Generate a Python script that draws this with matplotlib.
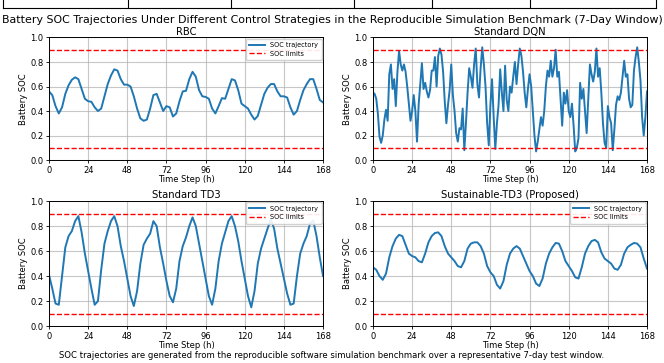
import numpy as np
import matplotlib
matplotlib.use("Agg")
import matplotlib.pyplot as plt
from matplotlib.lines import Line2D

# hourly / 2-hourly SOC values
t2 = np.arange(0, 169, 2)
t1 = np.arange(0, 169, 1)

soc_rbc = [0.56, 0.53, 0.44, 0.38, 0.43, 0.54, 0.61, 0.655, 0.675, 0.66,
           0.58, 0.50, 0.48, 0.475, 0.43, 0.40, 0.42, 0.52, 0.62, 0.69,
           0.74, 0.73, 0.66, 0.615, 0.615, 0.60, 0.52, 0.42, 0.34, 0.32,
           0.33, 0.42, 0.53, 0.54, 0.47, 0.40, 0.44, 0.43, 0.355, 0.38,
           0.48, 0.56, 0.565, 0.66, 0.72, 0.68, 0.57, 0.52, 0.515, 0.50,
           0.42, 0.38, 0.44, 0.505, 0.50, 0.58, 0.66, 0.65, 0.57, 0.46,
           0.44, 0.42, 0.37, 0.33, 0.36, 0.45, 0.54, 0.59, 0.62, 0.62,
           0.56, 0.52, 0.52, 0.51, 0.43, 0.37, 0.40, 0.49, 0.57, 0.62,
           0.66, 0.66, 0.58, 0.49, 0.47]

soc_dqn = [0.55, 0.54, 0.50, 0.38, 0.19, 0.14, 0.20, 0.33, 0.41, 0.32,
           0.70, 0.78, 0.58, 0.66, 0.44, 0.72, 0.89, 0.78, 0.73, 0.78,
           0.72, 0.60, 0.46, 0.32, 0.40, 0.53, 0.40, 0.15, 0.45, 0.62,
           0.79, 0.58, 0.63, 0.56, 0.51, 0.57, 0.73, 0.73, 0.84, 0.60,
           0.85, 0.91, 0.86, 0.72, 0.48, 0.30, 0.45, 0.57, 0.78, 0.53,
           0.40, 0.22, 0.15, 0.26, 0.25, 0.42, 0.08, 0.30, 0.55, 0.75,
           0.68, 0.59, 0.78, 0.91, 0.62, 0.51, 0.75, 0.92, 0.78, 0.60,
           0.30, 0.12, 0.45, 0.66, 0.35, 0.09, 0.30, 0.45, 0.74, 0.55,
           0.40, 0.77, 0.49, 0.40, 0.60, 0.55, 0.68, 0.80, 0.62, 0.78,
           0.91, 0.85, 0.72, 0.55, 0.43, 0.58, 0.70, 0.60, 0.40, 0.20,
           0.07, 0.15, 0.25, 0.35, 0.28, 0.40, 0.60, 0.73, 0.68, 0.81,
           0.68, 0.75, 0.90, 0.68, 0.72, 0.50, 0.28, 0.55, 0.46, 0.57,
           0.40, 0.35, 0.46, 0.28, 0.07, 0.10, 0.18, 0.63, 0.50, 0.58,
           0.40, 0.22, 0.50, 0.78, 0.70, 0.64, 0.72, 0.91, 0.68, 0.75,
           0.55, 0.30, 0.14, 0.10, 0.44, 0.35, 0.30, 0.08, 0.25, 0.45,
           0.52, 0.49, 0.55, 0.68, 0.81, 0.68, 0.70, 0.50, 0.43, 0.45,
           0.73, 0.84, 0.92, 0.80, 0.65, 0.35, 0.20, 0.35, 0.56]

soc_td3 = [0.41, 0.30, 0.18, 0.17, 0.40, 0.63, 0.72, 0.76, 0.84, 0.88,
           0.75, 0.58, 0.44, 0.30, 0.17, 0.20, 0.45, 0.66, 0.76, 0.84,
           0.88, 0.80, 0.64, 0.52, 0.38, 0.24, 0.16, 0.28, 0.50, 0.65,
           0.70, 0.74, 0.84, 0.80, 0.63, 0.50, 0.36, 0.24, 0.19, 0.30,
           0.52, 0.64, 0.71, 0.80, 0.87, 0.80, 0.66, 0.52, 0.38, 0.24,
           0.17, 0.30, 0.52, 0.66, 0.75, 0.84, 0.88, 0.80, 0.68, 0.52,
           0.38, 0.24, 0.15, 0.28, 0.50, 0.62, 0.70, 0.78, 0.855, 0.78,
           0.62, 0.50, 0.38, 0.26, 0.17, 0.18, 0.40, 0.58, 0.66, 0.72,
           0.82, 0.845, 0.72, 0.55, 0.40]

soc_std3 = [0.47, 0.45, 0.40, 0.37, 0.42, 0.55, 0.64, 0.70, 0.73, 0.72,
            0.65, 0.58, 0.56, 0.55, 0.52, 0.51, 0.58, 0.67, 0.72, 0.745,
            0.75, 0.72, 0.64, 0.58, 0.55, 0.52, 0.48, 0.47, 0.52, 0.62,
            0.66, 0.67, 0.67, 0.64, 0.58, 0.48, 0.43, 0.40, 0.33, 0.30,
            0.36, 0.49, 0.58, 0.62, 0.64, 0.62, 0.56, 0.50, 0.44, 0.40,
            0.34, 0.32, 0.38, 0.50, 0.58, 0.63, 0.665, 0.66, 0.60, 0.52,
            0.48, 0.44, 0.39, 0.38, 0.47, 0.58, 0.64, 0.68, 0.69, 0.67,
            0.59, 0.54, 0.52, 0.50, 0.46, 0.45, 0.49, 0.58, 0.63, 0.65,
            0.665, 0.66, 0.63, 0.54, 0.46]

soc_min, soc_max = 0.1, 0.9
titles = ["RBC", "Standard DQN", "Standard TD3", "Sustainable-TD3 (Proposed)"]
series = [(t2, soc_rbc), (t1, soc_dqn), (t2, soc_td3), (t2, soc_std3)]

fig = plt.figure(figsize=(6.64, 3.63), dpi=100)
positions = [[0.0738, 0.5592, 0.4127, 0.3375],
             [0.5617, 0.5592, 0.4127, 0.3375],
             [0.0738, 0.1019, 0.4127, 0.344],
             [0.5617, 0.1019, 0.4127, 0.344]]

for i, (pos, title, (t, y)) in enumerate(zip(positions, titles, series)):
    ax = fig.add_axes(pos)
    ax.plot(t, y, color="#1f77b4", lw=1.4, label="SOC trajectory")
    ax.axhline(soc_max, color="red", ls="--", lw=1.0, label="SOC limits")
    ax.axhline(soc_min, color="red", ls="--", lw=1.0)
    ax.set_xlim(0, 168)
    ax.set_ylim(0, 1.0)
    ax.set_xticks(np.arange(0, 169, 24))
    ax.set_yticks(np.arange(0, 1.01, 0.2))
    ax.grid(True, color="#b0b0b0", lw=0.8, alpha=0.7)
    ax.tick_params(labelsize=6, length=2.5, width=0.6, pad=1.5)
    for s in ax.spines.values():
        s.set_linewidth(0.7)
    ax.set_title(title, fontsize=7.2, pad=2)
    ax.set_xlabel("Time Step (h)", fontsize=6, labelpad=0.5)
    ax.set_ylabel("Battery SOC", fontsize=6, labelpad=1.5)
    if i != 1:
        ax.legend(loc="upper right", fontsize=4.7, framealpha=0.9,
                  handlelength=2.5, borderpad=0.5, labelspacing=0.4,
                  borderaxespad=0.2, fancybox=True)

fig.suptitle("Battery SOC Trajectories Under Different Control Strategies in the "
             "Reproducible Simulation Benchmark (7-Day Window)",
             fontsize=7.9, y=0.945, va="center")
fig.text(0.5, 1 - 355 / 363, "SOC trajectories are generated from the reproducible software "
         "simulation benchmark over a representative 7-day test window.",
         ha="center", va="center", fontsize=6.1)

# remnants of a table border cropped in at the top edge
border_x = [3, 128, 231, 354, 432, 530, 656]
for bx in border_x:
    fig.add_artist(Line2D([bx / 664, bx / 664], [1.0, 1 - 8 / 363],
                          color="black", lw=0.8))
fig.add_artist(Line2D([3 / 664, 656 / 664], [1 - 8 / 363, 1 - 8 / 363],
                      color="black", lw=0.8))

fig.savefig("out.png", dpi=100)
